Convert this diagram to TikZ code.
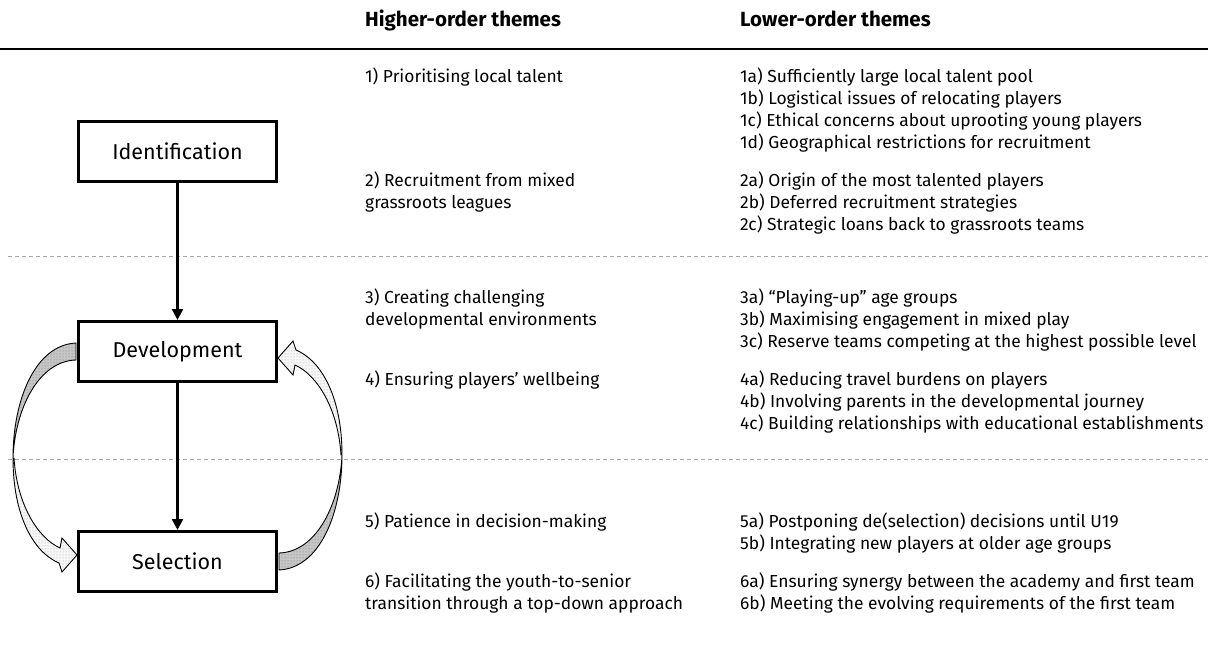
\documentclass[tikz,border=0pt]{standalone}
\usepackage{fontspec}
\setmainfont{Fira Sans}
\usetikzlibrary{arrows.meta,patterns}
\begin{document}
\begin{tikzpicture}[x=1pt,y=-1pt,
  box/.style={draw, line width=3pt, minimum width=198pt, minimum height=60pt, font=\fontsize{21.5}{24}\selectfont, inner sep=0pt},
  item/.style={anchor=base west, inner sep=0pt, font=\fontsize{17.4}{20}\selectfont},
  head/.style={anchor=base west, inner sep=0pt, font=\fontsize{20.5}{22}\selectfont\bfseries},
  flow/.style={line width=2.5pt, -{Triangle[length=11pt,width=11pt]}},
  sep/.style={gray!70, line width=0.8pt, dash pattern=on 4pt off 3pt},
  darkband/.style={draw=black, line width=0.9pt, preaction={fill=gray!45}, pattern=dots, pattern color=black!55},
  lightband/.style={draw=black, line width=0.9pt, preaction={fill=gray!6}, pattern=dots, pattern color=gray!70}]
\useasboundingbox (0,0) rectangle (1208,663);

% header and separators
\node[head] (hh) at (365,27) {Higher-order themes};
\node[head] (hl) at (740,27) {Lower-order themes};
\coordinate (tl) at (0,49.5);
\coordinate (tr) at (1208,49.5);
\draw[line width=2pt] (tl) -- (tr);
\coordinate (d1l) at (8,256);
\coordinate (d1r) at (1208,256);
\coordinate (d2l) at (8,459);
\coordinate (d2r) at (1208,459);
\draw[sep] (d1l) -- (d1r);
\draw[sep] (d2l) -- (d2r);

% curved feedback arrows
\newcommand{\loopband}{%
  \path[darkband] (76,343) .. controls (35,345) and (13,400) .. (13,458)
     .. controls (15,410) and (38,361) .. (76,360) -- cycle;
  \path[lightband] (13,458) .. controls (13,515) and (33,552) .. (59,563)
     -- (62,572) -- (77,555) -- (62,538) -- (60,548)
     .. controls (38,538) and (17,505) .. (14,458) -- cycle;
}
\loopband
\begin{scope}[rotate around={180:(177.5,456.5)}]
\loopband
\end{scope}

% boxes
\node[box, fill=white] (ident) at (177.5,151.5) {Identification};
\node[box, fill=white] (dev) at (177.5,351.5) {Development};
\node[box, fill=white] (sel) at (177.5,561.5) {Selection};
\draw[flow] (ident.south) -- (dev.north);
\draw[flow] (dev.south) -- (sel.north);

% higher-order themes
\node[item] (h1) at (365,83) {1) Prioritising local talent};
\node[item] (h2) at (365,187) {2) Recruitment from mixed};
\node[item] (h2b) at (365,209) {grassroots leagues};
\node[item] (h3) at (365,303) {3) Creating challenging};
\node[item] (h3b) at (365,325) {developmental environments};
\node[item] (h4) at (365,385) {4) Ensuring players’ wellbeing};
\node[item] (h5) at (365,527) {5) Patience in decision-making};
\node[item] (h6) at (365,587) {6) Facilitating the youth-to-senior};
\node[item] (h6b) at (365,609) {transition through a top-down approach};

% lower-order themes
\node[item] (l1a) at (740,83) {1a) Sufficiently large local talent pool};
\node[item] (l1b) at (740,105) {1b) Logistical issues of relocating players};
\node[item] (l1c) at (740,127) {1c) Ethical concerns about uprooting young players};
\node[item] (l1d) at (740,149) {1d) Geographical restrictions for recruitment};
\node[item] (l2a) at (740,187) {2a) Origin of the most talented players};
\node[item] (l2b) at (740,209) {2b) Deferred recruitment strategies};
\node[item] (l2c) at (740,231) {2c) Strategic loans back to grassroots teams};
\node[item] (l3a) at (740,303) {3a) “Playing-up” age groups};
\node[item] (l3b) at (740,325) {3b) Maximising engagement in mixed play};
\node[item] (l3c) at (740,347) {3c) Reserve teams competing at the highest possible level};
\node[item] (l4a) at (740,385) {4a) Reducing travel burdens on players};
\node[item] (l4b) at (740,407) {4b) Involving parents in the developmental journey};
\node[item] (l4c) at (740,429) {4c) Building relationships with educational establishments};
\node[item] (l5a) at (740,527) {5a) Postponing de(selection) decisions until U19};
\node[item] (l5b) at (740,549) {5b) Integrating new players at older age groups};
\node[item] (l6a) at (740,587) {6a) Ensuring synergy between the academy and first team};
\node[item] (l6b) at (740,609) {6b) Meeting the evolving requirements of the first team};
\end{tikzpicture}
\end{document}
